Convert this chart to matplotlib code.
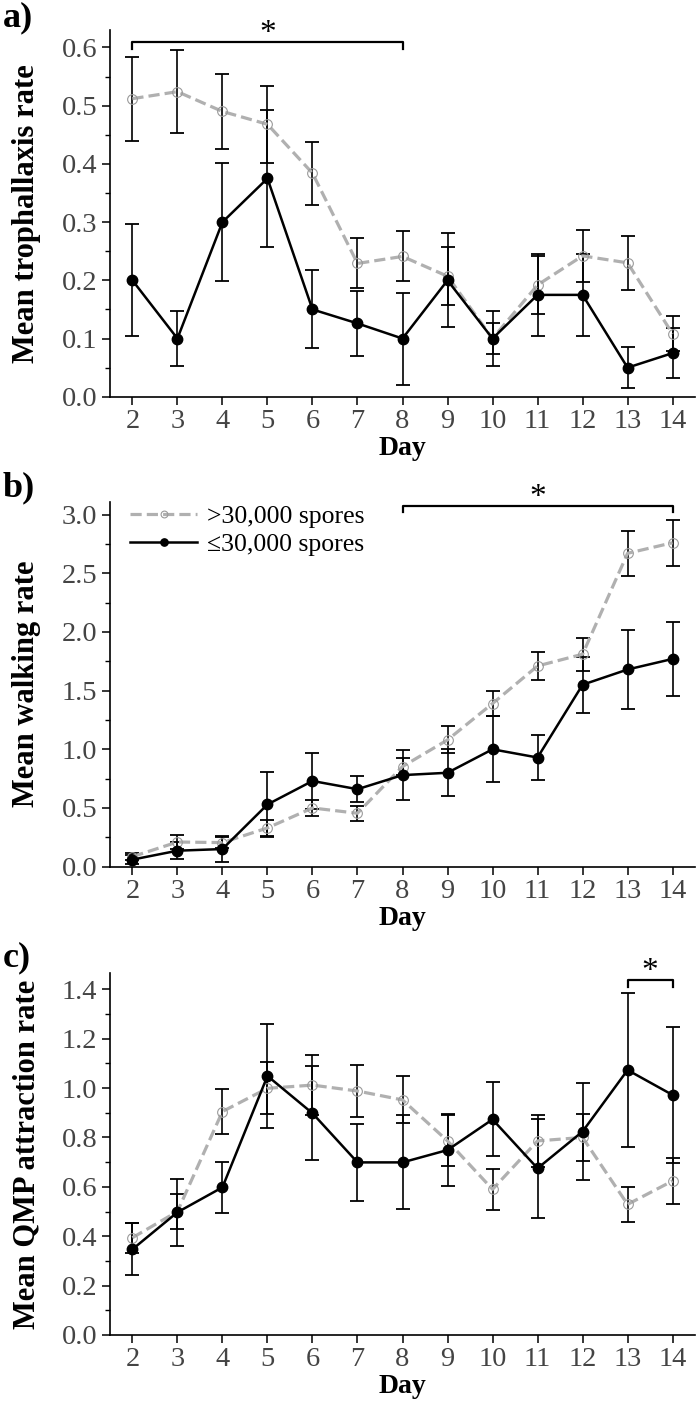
import matplotlib
matplotlib.use("Agg")
import matplotlib.pyplot as plt
from matplotlib.ticker import MultipleLocator, FormatStrFormatter
import numpy as np

plt.rcParams['font.family'] = ['Liberation Serif', 'DejaVu Serif']

days = np.arange(2, 15)

# a) trophallaxis
troph_high = [0.512, 0.524, 0.490, 0.468, 0.384, 0.229, 0.241, 0.207, 0.100, 0.192, 0.242, 0.230, 0.108]
troph_high_err = [0.072, 0.071, 0.065, 0.066, 0.054, 0.043, 0.043, 0.050, 0.027, 0.050, 0.045, 0.046, 0.030]
troph_low = [0.200, 0.100, 0.300, 0.375, 0.150, 0.126, 0.100, 0.200, 0.100, 0.175, 0.175, 0.050, 0.075]
troph_low_err = [0.096, 0.048, 0.101, 0.117, 0.067, 0.056, 0.079, 0.081, 0.047, 0.070, 0.070, 0.035, 0.043]

# b) walking
walk_high = [0.085, 0.21, 0.205, 0.33, 0.50, 0.455, 0.853, 1.08, 1.39, 1.71, 1.81, 2.67, 2.76]
walk_high_err = [0.03, 0.06, 0.05, 0.07, 0.065, 0.065, 0.075, 0.115, 0.11, 0.12, 0.14, 0.19, 0.195]
walk_low = [0.06, 0.136, 0.15, 0.53, 0.73, 0.66, 0.78, 0.80, 1.00, 0.93, 1.55, 1.68, 1.77]
walk_low_err = [0.04, 0.07, 0.107, 0.28, 0.24, 0.11, 0.21, 0.20, 0.28, 0.19, 0.24, 0.335, 0.317]

# c) QMP attraction
qmp_high = [0.394, 0.50, 0.905, 0.999, 1.012, 0.988, 0.952, 0.786, 0.590, 0.786, 0.80, 0.529, 0.624]
qmp_high_err = [0.06, 0.072, 0.093, 0.105, 0.12, 0.105, 0.095, 0.103, 0.083, 0.105, 0.095, 0.072, 0.093]
qmp_low = [0.347, 0.497, 0.598, 1.049, 0.898, 0.699, 0.699, 0.749, 0.873, 0.675, 0.824, 1.073, 0.972]
qmp_low_err = [0.105, 0.135, 0.104, 0.21, 0.19, 0.156, 0.19, 0.145, 0.15, 0.20, 0.196, 0.31, 0.275]

panels = [
    ("a)", "Mean trophallaxis rate", troph_high, troph_high_err, troph_low, troph_low_err,
     0.63, 0.1, (2, 8), 0.6096, 0.012),
    ("b)", "Mean walking rate", walk_high, walk_high_err, walk_low, walk_low_err,
     3.11, 0.5, (8, 14), 3.076, 0.05),
    ("c)", "Mean QMP attraction rate", qmp_high, qmp_high_err, qmp_low, qmp_low_err,
     1.465, 0.2, (13, 14), 1.436, 0.028),
]

fig = plt.figure(figsize=(7, 14.06), dpi=100)
bottoms = [0.7178, 0.3836, 0.0505]
heights = [0.2609, 0.2596, 0.2573]
label_y = [1, 471, 941]
grey = '#b0b0b0'

for i, (tag, ylab, hi, hi_e, lo, lo_e, ytop, step, sig, sig_y, sig_d) in enumerate(panels):
    ax = fig.add_axes([0.157, bottoms[i], 0.836, heights[i]])
    ax.errorbar(days, hi, yerr=hi_e, fmt='none', ecolor='k', elinewidth=1.2,
                capsize=5, capthick=1.3, zorder=2)
    ax.errorbar(days, lo, yerr=lo_e, fmt='none', ecolor='k', elinewidth=1.2,
                capsize=5, capthick=1.3, zorder=2)
    l1, = ax.plot(days, hi, color=grey, lw=2.3, dashes=(3.5, 1.6), marker='o', ms=7,
                  mfc='none', mec='#9a9a9a', mew=0.8, zorder=3, label='>30,000 spores')
    l2, = ax.plot(days, lo, color='k', lw=1.8, marker='o', ms=7.5, mfc='k', mec='k',
                  zorder=4, label='\u226430,000 spores')

    ax.set_xlim(1.5, 14.5)
    ax.set_ylim(0, ytop)
    ax.set_xticks(days)
    ax.yaxis.set_major_locator(MultipleLocator(step))
    ax.yaxis.set_minor_locator(MultipleLocator(step / 2))
    ax.yaxis.set_major_formatter(FormatStrFormatter('%.1f'))
    for s in ['top', 'right']:
        ax.spines[s].set_visible(False)
    for s in ['left', 'bottom']:
        ax.spines[s].set_linewidth(1.2)
    ax.tick_params(axis='both', which='major', direction='out', length=6, width=1.1,
                   labelsize=20.5, labelcolor='#444444', pad=3)
    ax.tick_params(axis='y', which='minor', direction='out', length=3.5, width=1.0)
    ax.set_xlabel('Day', fontsize=20, fontweight='bold', labelpad=1)

    fig.text(27 / 700, bottoms[i] + heights[i] / 2, ylab, rotation=90, ha='center',
             va='center', fontsize=22, fontweight='bold')
    fig.text(0.004, 1 - label_y[i] / 1406, tag, ha='left', va='top', fontsize=26,
             fontweight='bold')

    # significance bracket
    x0, x1 = sig
    ax.plot([x0, x0, x1, x1], [sig_y - sig_d, sig_y, sig_y, sig_y - sig_d], color='k',
            lw=1.6, clip_on=False, zorder=5)
    ax.annotate('*', xy=((x0 + x1) / 2, sig_y), xytext=(0, -5), textcoords='offset points',
                ha='center', va='bottom', fontsize=24, annotation_clip=False)

    if tag == "b)":
        ax.legend(handles=[l1, l2], loc='upper left', bbox_to_anchor=(0.035, 0.99),
                  frameon=False, fontsize=18.5, handlelength=2.6, handletextpad=0.4,
                  labelspacing=0.2, borderaxespad=0, borderpad=0, markerscale=0.7)

fig.savefig('out.png', dpi=100)
